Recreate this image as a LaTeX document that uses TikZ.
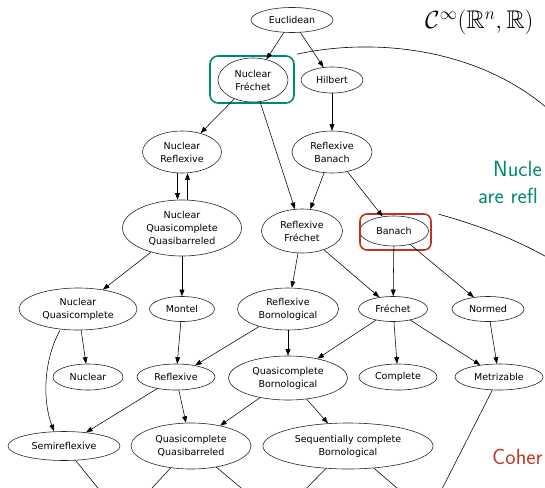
\documentclass[tikz,border=0pt]{standalone}
\usepackage{fontspec}
\usepackage{amssymb}
\usetikzlibrary{shapes.geometric,arrows.meta}
\newfontfamily\gvfont{DejaVu Sans}
\definecolor{slideteal}{RGB}{0,137,114}
\definecolor{slidered}{RGB}{192,52,38}
\begin{document}
\begin{tikzpicture}[x=1pt,y=-1pt,
  gv/.style={ellipse, draw=black!85, line width=0.6pt, inner sep=0pt, align=center,
    font=\gvfont\fontsize{9.5}{13}\selectfont},
  sz/.style 2 args={minimum width=#1pt, minimum height=#2pt},
  edge/.style={-{Triangle[length=6.5pt,width=4.8pt]}, line width=0.55pt},
  plain/.style={line width=0.55pt},
  slidetext/.style={font=\sffamily\fontsize{22}{26}\selectfont, inner sep=0pt, anchor=base west}]
\useasboundingbox (0,0) rectangle (545,487);
\clip (0,0) rectangle (545,487);
% nodes
\node[gv, sz={82}{25}] (eu) at (292,20) {Euclidean};
\node[gv, sz={70}{44}] (nf) at (253,80) {Nuclear\\Fréchet};
\node[gv, sz={62}{26}] (hi) at (332,80) {Hilbert};
\node[gv, sz={79}{42}] (nr) at (182,152) {Nuclear\\Reflexive};
\node[gv, sz={80}{42}] (rb) at (332,152) {Reflexive\\Banach};
\node[gv, sz={119}{56}] (nqq) at (182,228) {Nuclear\\Quasicomplete\\Quasibarreled};
\node[gv, sz={81}{44}] (rf) at (302,231) {Reflexive\\Fréchet};
\node[gv, sz={69}{30}] (ba) at (394,231) {Banach};
\node[gv, sz={118}{42}] (nq) at (78,309) {Nuclear\\Quasicomplete};
\node[gv, sz={65}{25}] (mo) at (182,309) {Montel};
\node[gv, sz={101}{42}] (rbo) at (288,309) {Reflexive\\Bornological};
\node[gv, sz={69}{25}] (fr) at (393,309) {Fréchet};
\node[gv, sz={72}{25}] (no) at (488,309) {Normed};
\node[gv, sz={70}{26}] (nu) at (88,377) {Nuclear};
\node[gv, sz={78}{26}] (re) at (176,377) {Reflexive};
\node[gv, sz={119}{44}] (qb) at (288,378) {Quasicomplete\\Bornological};
\node[gv, sz={78}{26}] (co) at (398,377) {Complete};
\node[gv, sz={88}{26}] (me) at (499,377) {Metrizable};
\node[gv, sz={112}{29}] (se) at (64,446) {Semireflexive};
\node[gv, sz={120}{46}] (qq) at (191,446) {Quasicomplete\\Quasibarreled};
\node[gv, sz={170}{46}] (scb) at (348,446) {Sequentially complete\\Bornological};
% highlight boxes
\node[draw=slideteal, line width=1.6pt, rounded corners=8pt, minimum width=84pt, minimum height=47pt] (nfbox) at (252,79.5) {};
\node[draw=slidered, line width=1.6pt, rounded corners=7pt, minimum width=71pt, minimum height=36pt] (babox) at (395.5,232) {};
% edges
\draw[edge] (eu) -- (nf);
\draw[edge] (eu) -- (hi);
\draw[edge] (nf) -- (nr);
\draw[edge] (nf) -- (rf);
\draw[edge] (hi) -- (rb);
\draw[edge] ([xshift=-4.5pt]nr.south) -- ([xshift=-4.5pt]nqq.north);
\draw[edge] ([xshift=5.5pt]nqq.north) -- ([xshift=5.5pt]nr.south);
\draw[edge] (rb) -- (rf);
\draw[edge] (rb) -- (ba);
\draw[edge] (nqq) -- (nq);
\draw[edge] (nqq) -- (mo);
\draw[edge] (rf) -- (rbo);
\draw[edge] (rf) -- (fr);
\draw[edge] (ba) -- (fr);
\draw[edge] (ba) -- (no);
\draw[edge] (nq) -- (nu);
\draw[edge] ([xshift=-18pt]nq.south) .. controls +(-16,29) and +(-12,-32) .. ([xshift=-10pt]se.north);
\draw[edge] (mo) -- (re);
\draw[edge] (rbo) -- (re);
\draw[edge] (rbo) -- (qb);
\draw[edge] (fr) -- (qb);
\draw[edge] (fr) -- (co);
\draw[edge] (fr) -- (me);
\draw[edge] (no) -- (me);
\draw[edge] (re) -- (se);
\draw[edge] (re) -- (qq);
\draw[edge] (qb) -- (qq);
\draw[edge] (qb) -- (scb);
% edges leaving the frame
\coordinate (o1) at (107.5,500);
\coordinate (o2) at (141,500);
\coordinate (o3) at (255.5,500);
\coordinate (o4) at (295,500);
\coordinate (o5) at (411,500);
\coordinate (o6) at (436.4,500);
\draw[plain] (se) -- (o1);
\draw[plain] (qq) -- (o2);
\draw[plain] (qq) -- (o3);
\draw[plain] (scb) -- (o4);
\draw[plain] (scb) -- (o5);
\draw[plain] (me) -- (o6);
% slide overlays
\coordinate (arcend) at (560,120);
\coordinate (arctwoend) at (560,265);
\draw[line width=0.6pt] ([shift={(2,-1)}]nfbox.north east) .. controls (380,36) and (490,50) .. (arcend);
\draw[line width=0.6pt] ([shift={(7,1)}]babox.north east) .. controls (480,226) and (520,240) .. (arctwoend);
\node[anchor=base west, inner sep=0pt, font=\fontsize{25.5}{30}\selectfont] (cinf) at (425,29) {$\mathcal{C}^{\infty}(\mathbb{R}^n,\mathbb{R})$};
\node[slidetext, text=slideteal] (tA) at (493,176) {Nucle};
\node[slidetext, text=slideteal] (tB) at (478,203) {are refl};
\node[slidetext, text=slidered] (tC) at (492,464) {Coher};
\end{tikzpicture}
\end{document}
